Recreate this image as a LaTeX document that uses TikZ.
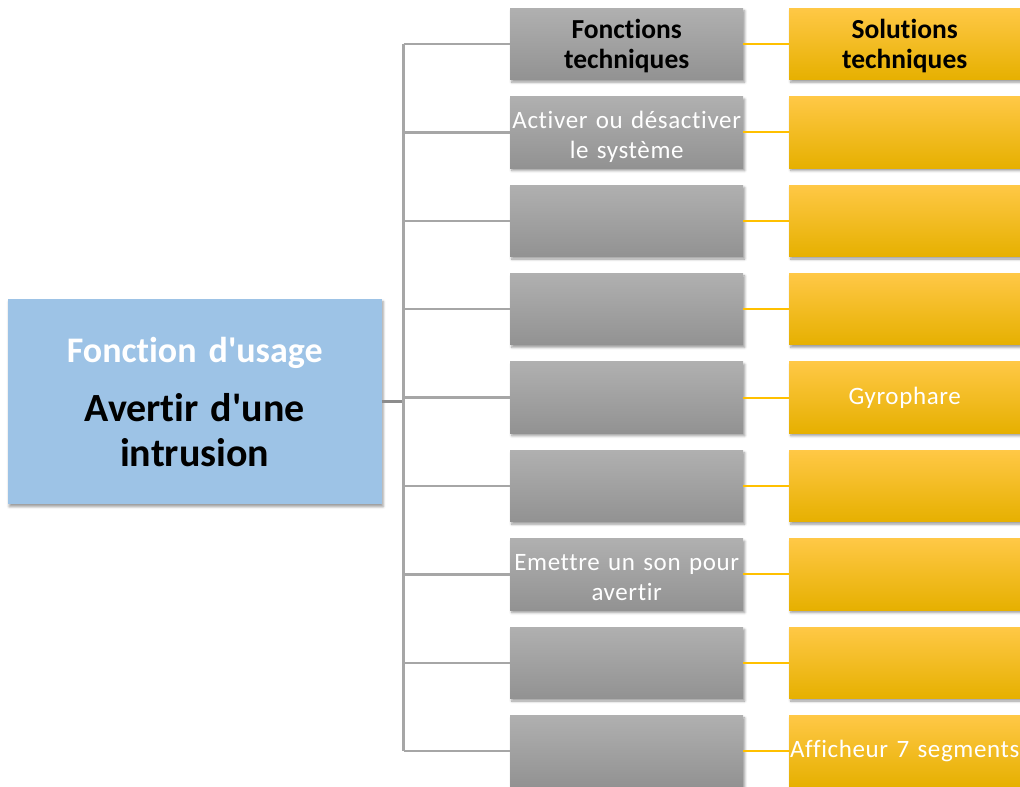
\documentclass[tikz,border=0pt]{standalone}
\usepackage{fontspec}
\setmainfont{Carlito}[Ligatures={NoCommon}]
\newfontfamily\spacedfont{Carlito}[LetterSpace=2.5, Ligatures={NoCommon}]
\usetikzlibrary{shadows.blur}

\definecolor{fnTop}{HTML}{B0B0B0}
\definecolor{fnBot}{HTML}{929292}
\definecolor{solTop}{HTML}{FFC846}
\definecolor{solMid}{HTML}{FFC000}
\definecolor{solBot}{HTML}{E6B000}
\definecolor{usageBlue}{HTML}{9DC3E6}
\definecolor{branchGray}{HTML}{A6A6A6}
\definecolor{stemGray}{HTML}{8C8C8C}
\definecolor{linkGold}{HTML}{FFC000}

\tikzset{
  softshadow/.style={blur shadow={shadow xshift=1.5pt, shadow yshift=-2.5pt,
      shadow blur radius=2.5pt, shadow opacity=40}},
  cell/.style={rectangle, anchor=north west, inner sep=2pt, align=center,
      softshadow},
  fnbox/.style={cell, minimum width=233pt, minimum height=71.5pt,
      text width=229pt, top color=fnTop, bottom color=fnBot, text=white,
      font=\spacedfont\fontsize{25}{30}\selectfont},
  solbox/.style={cell, minimum width=231pt, minimum height=71.5pt,
      text width=227pt, top color=solTop, middle color=solMid,
      bottom color=solBot, text=white,
      font=\spacedfont\fontsize{25}{30}\selectfont},
  headtext/.style={text=black, font=\bfseries\fontsize{27.5}{30}\selectfont},
  % taller first line pushes a two-line text a little lower in its box
  lowered/.style={execute at begin node={\rule{0pt}{#1}}},
  usagebox/.style={cell, minimum width=374pt, minimum height=205pt,
      text width=370pt, fill=usageBlue, text=black,
      font=\bfseries\fontsize{36}{45}\selectfont},
  branch/.style={draw=branchGray, line width=2.5pt},
  stem/.style={draw=stemGray, line width=3pt},
  link/.style={draw=linkGold, line width=2pt},
}

\begin{document}
\begin{tikzpicture}[x=1pt, y=-1pt]
\useasboundingbox (0,0) rectangle (1020,787);

% usage function box
\node[usagebox] (usage) at (7.5,299)
  {{\color{white}Fonction d\textquotesingle usage}\\[14pt]%
   {\fontsize{40}{45}\selectfont Avertir d\textquotesingle une\\intrusion}};

% technical functions column
\node[fnbox, headtext, lowered=24pt] (f1) at (510,8.0) {Fonctions\\techniques};
\node[fnbox, lowered=26pt] (f2) at (510,96.4)  {Activer ou désactiver\\le système};
\node[fnbox] (f3) at (510,184.8) {};
\node[fnbox] (f4) at (510,273.2) {};
\node[fnbox] (f5) at (510,361.6) {};
\node[fnbox] (f6) at (510,450.0) {};
\node[fnbox, lowered=23pt] (f7) at (510,538.4) {Emettre un son pour\\avertir};
\node[fnbox] (f8) at (510,626.8) {};
\node[fnbox] (f9) at (510,715.2) {};

% technical solutions column
\node[solbox, headtext, lowered=24pt] (s1) at (789,8.0) {Solutions\\techniques};
\node[solbox] (s2) at (789,96.4)  {};
\node[solbox] (s3) at (789,184.8) {};
\node[solbox] (s4) at (789,273.2) {};
\node[solbox] (s5) at (789,361.6) {Gyrophare};
\node[solbox] (s6) at (789,450.0) {};
\node[solbox] (s7) at (789,538.4) {};
\node[solbox] (s8) at (789,626.8) {};
\node[solbox] (s9) at (789,715.2) {\makebox[\linewidth][c]{Afficheur 7 segments}};

% tree trunk
\coordinate (trunk) at (403.5,0);
\draw[stem] (usage.east) -- (usage.east -| trunk);
\draw[branch] (f1.west -| trunk) -- (f9.west -| trunk);

\foreach \i in {1,...,9} {
  \draw[branch] (f\i.west -| trunk) -- (f\i.west);
  \draw[link] (f\i.east) -- (s\i.west);
}
\end{tikzpicture}
\end{document}
